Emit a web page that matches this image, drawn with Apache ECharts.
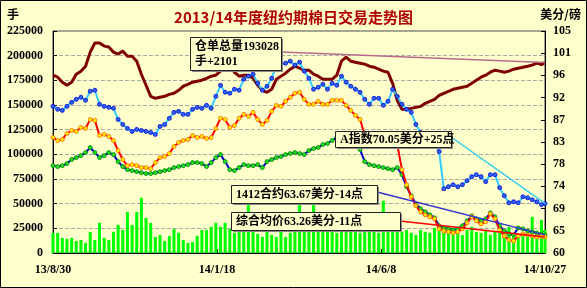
<!DOCTYPE html>
<html><head><meta charset="utf-8">
<script src="https://cdn.jsdelivr.net/npm/echarts@6/dist/echarts.min.js"></script>
<style>html,body{margin:0;padding:0;background:#FFFFCC;}#c{width:587px;height:288px;}</style>
</head><body><div id="c"></div>
<script>
const titleText = '2013/14年度纽约期棉日交易走势图';
const leftUnit = '手';
const rightUnit = '美分/磅';
const rightTickLabels = ['60','65','69','74','78','83','87','92','96','101','105'];

const dates = [
'2013-08-30','2013-09-03','2013-09-07','2013-09-11','2013-09-15','2013-09-19','2013-09-23','2013-09-27','2013-10-01','2013-10-05',
'2013-10-09','2013-10-13','2013-10-17','2013-10-21','2013-10-25','2013-10-29','2013-11-02','2013-11-06','2013-11-10','2013-11-14',
'2013-11-18','2013-11-22','2013-11-26','2013-11-30','2013-12-04','2013-12-08','2013-12-12','2013-12-16','2013-12-20','2013-12-24',
'2013-12-28','2014-01-01','2014-01-05','2014-01-09','2014-01-13','2014-01-17','2014-01-21','2014-01-25','2014-01-29','2014-02-02',
'2014-02-06','2014-02-10','2014-02-14','2014-02-18','2014-02-22','2014-02-26','2014-03-02','2014-03-06','2014-03-10','2014-03-14',
'2014-03-18','2014-03-22','2014-03-26','2014-03-30','2014-04-03','2014-04-07','2014-04-11','2014-04-15','2014-04-19','2014-04-23',
'2014-04-27','2014-05-01','2014-05-05','2014-05-09','2014-05-13','2014-05-17','2014-05-21','2014-05-25','2014-05-29','2014-06-02',
'2014-06-06','2014-06-10','2014-06-14','2014-06-18','2014-06-22','2014-06-26','2014-06-30','2014-07-04','2014-07-08','2014-07-12',
'2014-07-16','2014-07-20','2014-07-24','2014-07-28','2014-08-01','2014-08-05','2014-08-09','2014-08-13','2014-08-17','2014-08-21',
'2014-08-25','2014-08-29','2014-09-02','2014-09-06','2014-09-10','2014-09-14','2014-09-18','2014-09-22','2014-09-26','2014-09-30',
'2014-10-04','2014-10-08','2014-10-12','2014-10-16','2014-10-20','2014-10-24','2014-10-27'];

// 仓单总量 (手)
const stockLots = [
180200,178200,173100,170000,173100,181200,184300,189300,203600,212800,
212800,209700,208700,203600,201600,204600,199500,199500,194400,181200,
170000,158800,156800,157800,158800,160800,161900,164900,169000,171000,
173100,174100,175100,177100,179200,180200,184300,189300,190400,183200,
179200,180200,180200,177100,170000,164900,162900,165900,176100,179200,
182200,186300,189300,187300,185300,185300,181200,179200,176100,176100,
176100,180200,194400,198500,194400,193400,192400,191400,189300,188300,
186300,184300,183200,172000,154700,145600,145600,146600,147600,148600,
151700,153700,155800,159800,161900,163900,165900,167000,168000,169000,
172000,175100,178200,180200,183200,185300,184300,183200,184300,186300,
187300,188300,189300,190400,192400,190927,193028];

// A指数 (美分/磅)
const aIndex = [
89.73,89.12,88.91,89.73,90.54,91.15,91.56,90.95,92.78,92.99,
90.14,89.73,89.52,89.32,87.08,86.06,85.25,84.64,85.05,84.84,
84.64,84.43,84.03,85.66,86.06,87.29,88.51,88.71,88.10,88.10,
89.12,89.52,89.32,89.93,89.32,91.76,94.00,92.58,92.38,93.19,
92.99,95.23,95.84,96.24,94.41,92.99,93.80,95.43,97.87,98.28,
98.48,98.89,98.08,98.69,96.86,95.43,93.19,93.60,94.21,93.19,
94.41,94.00,95.84,94.62,93.80,93.19,92.58,91.15,90.14,91.36,
91.36,89.93,90.75,93.19,91.76,90.14,89.12,88.51,86.06,84.43,
83.42,82.60,81.99,80.57,73.03,73.44,73.85,73.44,73.85,74.66,
75.48,75.88,75.48,74.46,75.88,75.88,73.24,71.61,70.18,70.38,
70.18,71.40,71.20,70.79,70.38,69.80,70.05];

// 综合均价 (美分/磅)
const compAvg = [
83.42,82.81,83.01,84.23,84.84,84.64,85.45,85.25,87.08,86.88,
83.82,84.03,83.62,82.81,80.77,78.94,77.71,77.92,77.71,77.31,
77.31,77.10,78.33,79.34,79.55,80.16,81.58,82.40,82.81,83.01,
83.82,83.42,83.62,83.21,83.42,85.25,87.29,87.08,85.45,85.86,
87.29,88.10,87.69,88.51,87.08,86.06,86.88,88.71,89.93,89.73,
90.75,91.56,92.38,92.58,91.15,90.14,90.14,90.75,90.14,90.14,
90.95,90.95,90.95,89.93,88.91,87.90,87.08,84.03,83.01,82.60,
82.40,82.60,82.19,82.40,81.99,76.90,73.85,71.40,69.57,68.35,
67.74,67.33,66.92,64.89,64.48,64.28,64.07,64.28,64.89,66.11,
67.33,66.52,65.90,66.31,67.94,66.92,64.68,63.46,62.65,62.44,
63.46,63.87,63.67,63.46,63.26,63.37,63.26];

// 1412合约 (美分/磅)
const dec14 = [
77.71,77.51,77.71,78.12,78.94,79.34,79.75,80.36,81.38,80.36,
79.34,79.75,80.36,79.95,78.53,77.51,76.90,76.70,76.49,76.29,
76.09,76.09,76.29,76.49,76.70,76.90,77.31,77.51,77.71,77.92,
78.33,78.33,78.12,77.51,78.33,79.34,79.95,78.53,76.90,76.70,
77.31,77.92,77.71,77.71,77.92,77.31,78.53,78.94,79.34,79.55,
79.95,80.16,80.36,80.16,79.95,80.77,81.18,81.38,81.99,82.19,
82.81,83.42,83.42,83.62,83.62,83.62,80.97,78.53,77.92,77.71,
77.51,77.31,77.10,76.90,77.31,75.88,73.44,71.61,69.98,68.96,
68.35,67.74,67.13,65.50,65.09,64.89,64.68,64.89,65.50,66.52,
67.53,66.92,66.52,66.92,68.14,67.33,65.50,64.48,63.87,63.67,
65.09,64.89,64.48,64.28,64.07,63.81,63.67];

// 成交量 (手)
const volume = [
20400,20400,15300,14300,15300,12200,13200,10200,21400,13200,
30500,15300,13200,21400,28500,23400,41700,28500,41700,56000,
35600,30500,16300,18300,12200,17300,24400,20400,13200,10200,
11200,17300,23400,23400,26500,30500,26500,30500,24400,20400,
21400,28500,51900,23400,19300,16300,21400,18300,16300,33600,
16300,20400,23400,54000,23400,21400,54000,25500,21400,23400,
25500,20400,23400,21400,23400,25500,20400,23400,26500,23400,
20400,52900,25500,23400,25500,21400,23400,20400,18300,23400,
21400,20400,25500,23400,21400,26500,23400,25500,18300,23400,
26500,21400,20400,23400,18300,21400,20400,23400,26500,18300,
16300,20400,21400,36600,18300,33600,23400];

const DAY = 86400000;
const t0 = Date.parse(dates[0]);
const xs = dates.map(s => (Date.parse(s) - t0) / DAY);
const span = xs[xs.length - 1];
const pairs = arr => arr.map((v, i) => [xs[i], v]);
const fmtDate = d => { const t = new Date(t0 + d * DAY); return (t.getUTCFullYear() % 100) + '/' + (t.getUTCMonth() + 1) + '/' + t.getUTCDate(); };
const last = a => a[a.length - 1];
const chgPts = a => Math.round((a[a.length - 1] - a[a.length - 2]) * 100);
const sgn = n => (n >= 0 ? '+' : '-') + Math.abs(n);

const serif = "'Liberation Serif', 'Times New Roman', serif";
const cjk = "'Liberation Serif', 'Noto Sans CJK SC', serif";

const chart = echarts.init(document.getElementById('c'), null, {renderer: 'canvas'});
const option = {
  animation: false,
  backgroundColor: '#FFFFCC',
  title: {text: titleText, left: 'center', top: 5,
    textStyle: {color: '#B00000', fontSize: 15, fontWeight: 'bold', fontFamily: "'Noto Sans CJK SC', sans-serif"}},
  grid: {left: 53, right: 42, top: 31, bottom: 35, show: true, borderColor: '#444', borderWidth: 1},
  xAxis: {type: 'value', min: 0, max: span, interval: span / 3,
    axisLine: {lineStyle: {color: '#000'}},
    axisTick: {inside: true, length: 4, lineStyle: {color: '#000'}},
    axisLabel: {formatter: fmtDate, color: '#000', fontWeight: 'bold', fontSize: 12, fontFamily: serif, margin: 11},
    splitLine: {show: false}},
  yAxis: [
    {type: 'value', min: 0, max: 225000, interval: 25000,
      axisLine: {show: true, lineStyle: {color: '#000'}},
      axisTick: {show: true, inside: true, length: 4, lineStyle: {color: '#000'}},
      axisLabel: {formatter: v => String(v), color: '#000', fontWeight: 'bold', fontSize: 12, fontFamily: serif, margin: 10},
      splitLine: {show: true, lineStyle: {color: '#AAAAAA', type: 'dashed'}}},
    {type: 'value', min: 60, max: 105, position: 'right', show: false, splitLine: {show: false}},
    {type: 'category', data: rightTickLabels, boundaryGap: false, position: 'right',
      axisLine: {show: true, lineStyle: {color: '#000'}},
      axisTick: {show: true, inside: true, length: 4, interval: 0, lineStyle: {color: '#000'}},
      axisLabel: {interval: 0, color: '#000', fontWeight: 'bold', fontSize: 12, fontFamily: serif, margin: 8},
      splitLine: {show: false}}
  ],
  series: [
    {name: '成交量', type: 'bar', yAxisIndex: 0, data: pairs(volume), barWidth: 3,
      itemStyle: {color: '#00FF00'}, z: 1},
    {name: '仓单', type: 'line', yAxisIndex: 0, data: pairs(stockLots), symbol: 'none',
      lineStyle: {color: '#800000', width: 3}, z: 2},
    {name: '1412', type: 'line', yAxisIndex: 1, data: pairs(dec14), symbol: 'circle', symbolSize: 4, showAllSymbol: true,
      lineStyle: {color: '#0000CC', width: 2}, itemStyle: {color: '#22DD22', borderColor: '#008800', borderWidth: 0.8}, z: 3},
    {name: '综合均价', type: 'line', yAxisIndex: 1, data: pairs(compAvg), symbol: 'circle', symbolSize: 4, showAllSymbol: true,
      lineStyle: {color: '#FF0000', width: 2}, itemStyle: {color: '#FFEE00', borderColor: '#FF6600', borderWidth: 0.8}, z: 4},
    {name: 'A指数', type: 'line', yAxisIndex: 1, data: pairs(aIndex), symbol: 'circle', symbolSize: 4, showAllSymbol: true,
      lineStyle: {color: '#33CCFF', width: 2}, itemStyle: {color: '#3366FF', borderColor: '#0000CC', borderWidth: 0.8}, z: 5}
  ]
};
chart.setOption(option);

const notes = [
  {box: [190, 37, 91, 33], from: [281, 52], si: 1, arr: stockLots, color: '#B86A8A',
    text: '{k|仓单总量' + last(stockLots) + '}\n{k|手}{r|' + sgn(last(stockLots) - stockLots[stockLots.length - 2]) + '}'},
  {box: [335, 131, 116, 16], from: [451, 137], si: 4, arr: aIndex, color: '#33CCEE',
    text: '{k|A指数' + last(aIndex).toFixed(2) + '美分}{r|' + sgn(chgPts(aIndex)) + '}{k|点}'},
  {box: [231, 185, 146, 18], from: [377, 192], si: 2, arr: dec14, color: '#3333CC',
    text: '{k|1412合约' + last(dec14).toFixed(2) + '美分}{b|' + sgn(chgPts(dec14)) + '}{k|点}'},
  {box: [231, 212, 169, 18], from: [400, 221], si: 3, arr: compAvg, color: '#FF0000',
    text: '{k|综合均价' + last(compAvg).toFixed(2) + '美分}{b|' + sgn(chgPts(compAvg)) + '}{k|点}'}
];
const rich = {
  k: {color: '#000', fontWeight: 'bold', fontSize: 12, fontFamily: cjk, lineHeight: 15},
  r: {color: '#C00000', fontWeight: 'bold', fontSize: 12, fontFamily: cjk, lineHeight: 15},
  b: {color: '#1A1A99', fontWeight: 'bold', fontSize: 12, fontFamily: cjk, lineHeight: 15}
};
const graphics = [];
notes.forEach(n => {
  const end = chart.convertToPixel({seriesIndex: n.si}, [span, last(n.arr)]);
  graphics.push({type: 'line', z: 50, shape: {x1: n.from[0], y1: n.from[1], x2: end[0], y2: end[1]},
    style: {stroke: n.color, lineWidth: 1.5}});
  const [x, y, w, h] = n.box;
  graphics.push({type: 'rect', z: 60, shape: {x: x + 2, y: y + 2, width: w, height: h}, style: {fill: '#888'}});
  graphics.push({type: 'rect', z: 61, shape: {x: x + 0.5, y: y + 0.5, width: w, height: h}, style: {fill: '#FFFFCC', stroke: '#222', lineWidth: 1}});
  graphics.push({type: 'text', z: 62, x: x + 5, y: y + h / 2 + 1,
    style: {text: n.text, rich: rich, verticalAlign: 'middle', align: 'left'}});
});
graphics.push({type: 'text', z: 70, x: 7, y: 14, style: {text: leftUnit, font: "bold 12px 'Noto Sans CJK SC'", fill: '#000', verticalAlign: 'middle'}});
graphics.push({type: 'text', z: 70, x: 581, y: 14, style: {text: rightUnit, font: "bold 12px 'Noto Sans CJK SC'", fill: '#000', verticalAlign: 'middle', align: 'right'}});
graphics.push({type: 'rect', z: 80, shape: {x: 0.5, y: 0.5, width: 586, height: 287}, style: {fill: 'none', stroke: '#000', lineWidth: 1}});
chart.setOption({graphic: graphics});
</script></body></html>
